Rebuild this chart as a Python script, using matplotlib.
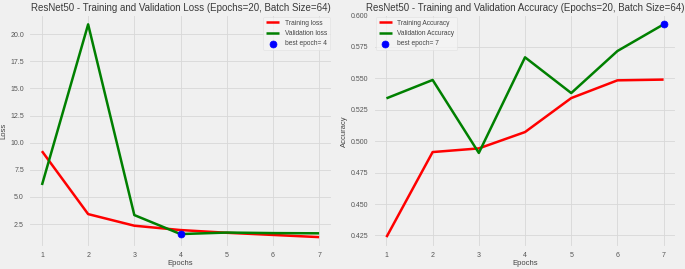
import matplotlib
matplotlib.use('Agg')
import matplotlib.pyplot as plt

epochs = [1, 2, 3, 4, 5, 6, 7]
tr_loss = [9.22, 3.42, 2.35, 1.95, 1.70, 1.50, 1.30]
val_loss = [6.10, 20.9, 3.33, 1.58, 1.72, 1.67, 1.65]
tr_acc = [0.4237, 0.4913, 0.4942, 0.5072, 0.5342, 0.5483, 0.5489]
val_acc = [0.5340, 0.5486, 0.4906, 0.5666, 0.5382, 0.5716, 0.5928]
best_loss_ep = 4
best_acc_ep = 7

plt.style.use('fivethirtyeight')
plt.rcParams['font.family'] = ['Liberation Sans', 'DejaVu Sans']

fig, axes = plt.subplots(1, 2, figsize=(6.85, 2.69), dpi=100)
fig.subplots_adjust(left=0.041, right=0.989, bottom=0.079, top=0.949, wspace=0.13)

ax = axes[0]
ax.plot(epochs, tr_loss, 'r', lw=1.8, label='Training loss')
ax.plot(epochs, val_loss, 'g', lw=1.8, label='Validation loss')
ax.scatter(best_loss_ep, val_loss[best_loss_ep - 1], s=25, c='blue', label='best epoch= 4', zorder=3)
ax.set_title('ResNet50 - Training and Validation Loss (Epochs=20, Batch Size=64)',
             fontsize=7, pad=2, color='#3a3a3a')
ax.set_xlabel('Epochs', fontsize=5.5, labelpad=1, color='#444444')
ax.set_ylabel('Loss', fontsize=5.5, labelpad=2, color='#444444')
ax.legend(fontsize=4.8, loc='upper right')

ax = axes[1]
ax.plot(epochs, tr_acc, 'r', lw=1.8, label='Training Accuracy')
ax.plot(epochs, val_acc, 'g', lw=1.8, label='Validation Accuracy')
ax.scatter(best_acc_ep, val_acc[best_acc_ep - 1], s=25, c='blue', label='best epoch= 7', zorder=3)
ax.set_title('ResNet50 - Training and Validation Accuracy (Epochs=20, Batch Size=64)',
             fontsize=7, pad=2, color='#3a3a3a')
ax.set_xlabel('Epochs', fontsize=5.5, labelpad=1, color='#444444')
ax.set_ylabel('Accuracy', fontsize=5.5, labelpad=2, color='#444444')
ax.legend(fontsize=4.8, loc='upper left')

for ax in axes:
    ax.tick_params(labelsize=5, pad=3, labelcolor='#555555')
    ax.grid(lw=0.6, color='#d8d8d8')
    leg = ax.get_legend()
    leg.get_frame().set_facecolor('#f4f4f4')
    leg.get_frame().set_edgecolor('#e0e0e0')
    for t in leg.get_texts():
        t.set_color('#444444')

fig.savefig('out.png', dpi=100)
